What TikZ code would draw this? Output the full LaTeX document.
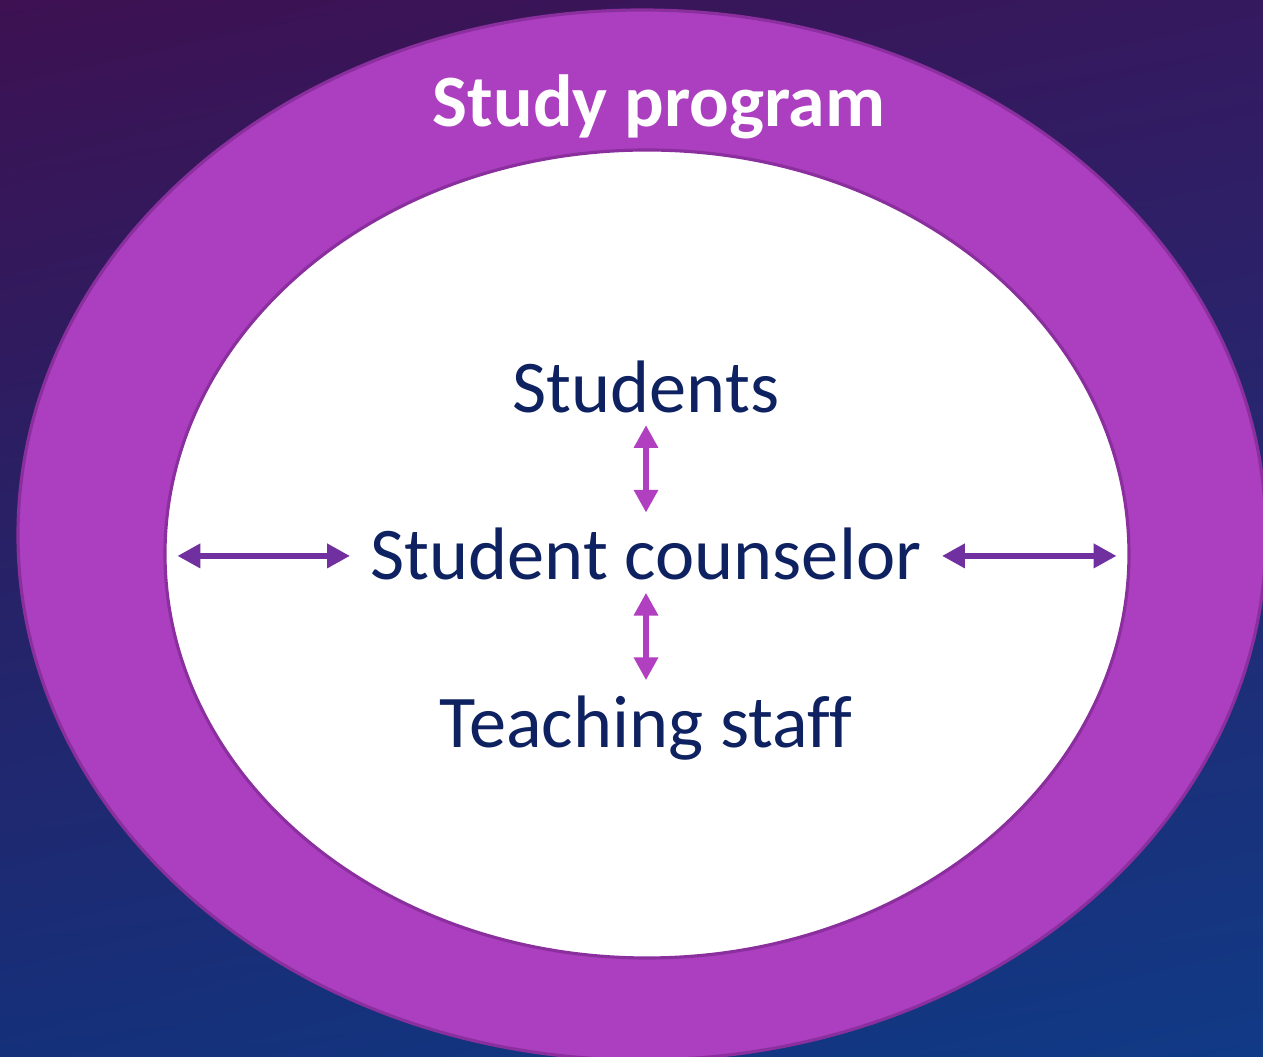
\documentclass[tikz,border=0pt]{standalone}
\usepackage{fontspec}
\setmainfont{Carlito}[Ligatures=NoCommon]
\usetikzlibrary{shapes,shapes.geometric,shadings,arrows.meta,positioning}
\definecolor{bgtl}{HTML}{3D1152}
\definecolor{bgtr}{HTML}{35195F}
\definecolor{bgbl}{HTML}{15307A}
\definecolor{bgbr}{HTML}{103A86}
\definecolor{ringfill}{HTML}{AB3FC0}
\definecolor{ringline}{HTML}{8B2F9F}
\definecolor{navy}{HTML}{0E2160}
\definecolor{hlinkcol}{HTML}{7030A0}
\definecolor{vlinkcol}{HTML}{B040C0}

\begin{document}
\begin{tikzpicture}
	[every node/.style={inner sep=0pt},
	ring/.style={shape=ellipse,draw=ringline,line width=0.9pt},
	lbl/.style={font=\fontsize{21.15}{25}\selectfont,text=navy,text height=14.7pt,text depth=1pt},
	link/.style={{Triangle[length=6.5pt,width=6.6pt]}-{Triangle[length=6.5pt,width=6.6pt]},line width=1.7pt},
	vlink/.style={link,draw=vlinkcol,shorten <=0.085cm,shorten >=0.15cm},
	hlink/.style={link,draw=hlinkcol,line width=1.8pt,shorten <=0.2cm,shorten >=0.14cm},
	node distance=1.11cm]
	\useasboundingbox (0,0) rectangle (12.63,-10.57);
	\clip (0,0) rectangle (12.63,-10.57);
	\shade[upper left=bgtl,upper right=bgtr,lower left=bgbl,lower right=bgbr] (0,0) rectangle (12.63,-10.57);
	% rings
	\node[ring,fill=ringfill,minimum width=12.48cm,minimum height=10.5cm] (prog) at (6.42,-5.35) {};
	\node[ring,fill=white,minimum width=9.64cm,minimum height=8.08cm] (field) at (6.47,-5.54) {};
	\node[font=\fontsize{21}{25}\selectfont\bfseries,text=white,anchor=base] (progname) at (6.59,-1.27) {Study program};
	% people
	\node[lbl,anchor=base] (couns) at (6.46,-5.80) {Student counselor};
	\node[lbl,above=of couns] (students) {Students};
	\node[lbl,below=of couns] (staff) {Teaching staff};
	\draw[vlink] (students) -- (couns);
	\draw[vlink] (couns) -- (staff);
	\draw[hlink] (couns.west) -- (couns.west -| field.west);
	\draw[hlink] (couns.east) -- (couns.east -| field.east);
\end{tikzpicture}
\end{document}
